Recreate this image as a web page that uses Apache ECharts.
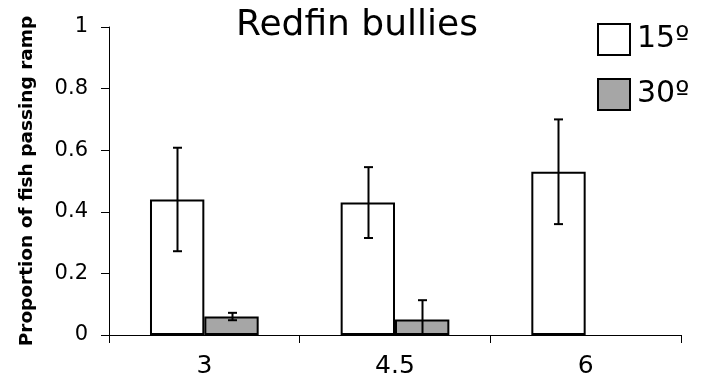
<!DOCTYPE html>
<html>
<head>
<meta charset="utf-8">
<script src="https://cdn.jsdelivr.net/npm/echarts@6/dist/echarts.min.js"></script>
<style>
  html, body { margin: 0; padding: 0; background: #fff; }
  #chart { width: 706px; height: 379px; }
</style>
</head>
<body>
<div id="chart"></div>
<script>
// Ramp slope categories and per-angle pass proportions
var categories = ['3', '4.5', '6'];
var seriesNames = ['15º', '30º'];
var values15 = [0.44, 0.43, 0.53];
var errors15 = [0.168, 0.115, 0.17];
var values30 = [0.06, 0.05, null];
var errors30 = [0.012, 0.063, null];
var yTicks = [0, 0.2, 0.4, 0.6, 0.8, 1];

var GRID = { left: 109, right: 25, top: 27, bottom: 44 };
var CATEGORY_GAP = 0.43;

var chart = echarts.init(document.getElementById('chart'));

function errorBarRenderer(seriesIndex) {
  return function (params, api) {
    var idx = api.value(0);
    var lo = api.value(1);
    var hi = api.value(2);
    var band = api.size([1, 0])[0];
    var barW = band * (1 - CATEGORY_GAP) / 2;
    var offset = seriesIndex === 0 ? -barW / 2 : barW / 2;
    var pHi = api.coord([idx, hi]);
    var pLo = api.coord([idx, lo]);
    var x = Math.round(pHi[0] + offset) + 0.5;
    var cap = 4.5;
    var style = { stroke: '#000', lineWidth: 2 };
    return {
      type: 'group',
      children: [
        { type: 'line', shape: { x1: x, y1: pHi[1], x2: x, y2: pLo[1] }, style: style },
        { type: 'line', shape: { x1: x - cap, y1: pHi[1], x2: x + cap, y2: pHi[1] }, style: style },
        { type: 'line', shape: { x1: x - cap, y1: pLo[1], x2: x + cap, y2: pLo[1] }, style: style }
      ]
    };
  };
}

function errorData(vals, errs) {
  var out = [];
  for (var i = 0; i < vals.length; i++) {
    if (vals[i] == null) continue;
    out.push([i, Math.max(0, vals[i] - errs[i]), vals[i] + errs[i]]);
  }
  return out;
}

var option = {
  animation: false,
  backgroundColor: '#fff',
  title: {
    text: 'Redfin bullies',
    left: 236,
    top: 8,
    padding: 0,
    textStyle: { fontFamily: 'DejaVu Sans', fontWeight: 'normal', fontSize: 36, color: '#000' }
  },
  legend: {
    orient: 'vertical',
    left: 597,
    top: 23,
    padding: 0,
    itemWidth: 32,
    itemHeight: 31,
    itemGap: 22,
    icon: 'rect',
    data: seriesNames,
    textStyle: { fontFamily: 'DejaVu Sans', fontSize: 30, color: '#000', padding: [0, 0, 0, 2] }
  },
  grid: GRID,
  xAxis: {
    type: 'category',
    data: categories,
    axisLine: { lineStyle: { color: '#000', width: 1 } },
    axisTick: { show: true, length: 8, alignWithLabel: false, lineStyle: { color: '#000' } },
    axisLabel: { fontFamily: 'DejaVu Sans', fontSize: 25, color: '#000', margin: 19 }
  },
  yAxis: {
    type: 'value',
    min: 0,
    max: 1,
    interval: 0.2,
    name: 'Proportion of fish passing ramp',
    nameLocation: 'middle',
    nameGap: 72,
    nameTextStyle: { fontFamily: 'DejaVu Sans', fontWeight: 'bold', fontSize: 18.5, color: '#000' },
    splitLine: { show: false },
    axisLine: { show: true, lineStyle: { color: '#000', width: 1 } },
    axisTick: { show: true, length: 8, lineStyle: { color: '#000' } },
    axisLabel: {
      fontFamily: 'DejaVu Sans', fontSize: 21, color: '#000', margin: 21,
      customValues: yTicks,
      formatter: function (v) { return String(Math.round(v * 10) / 10); }
    }
  },
  series: [
    {
      name: seriesNames[0],
      type: 'bar',
      data: values15,
      barGap: '0%',
      barCategoryGap: (CATEGORY_GAP * 100) + '%',
      itemStyle: { color: '#ffffff', borderColor: '#000', borderWidth: 2 }
    },
    {
      name: seriesNames[1],
      type: 'bar',
      data: values30,
      barGap: '0%',
      barCategoryGap: (CATEGORY_GAP * 100) + '%',
      itemStyle: { color: '#a6a6a6', borderColor: '#000', borderWidth: 2 }
    },
    {
      type: 'custom',
      renderItem: errorBarRenderer(0),
      data: errorData(values15, errors15),
      z: 5
    },
    {
      type: 'custom',
      renderItem: errorBarRenderer(1),
      data: errorData(values30, errors30),
      z: 5
    }
  ]
};

chart.setOption(option);
</script>
</body>
</html>
